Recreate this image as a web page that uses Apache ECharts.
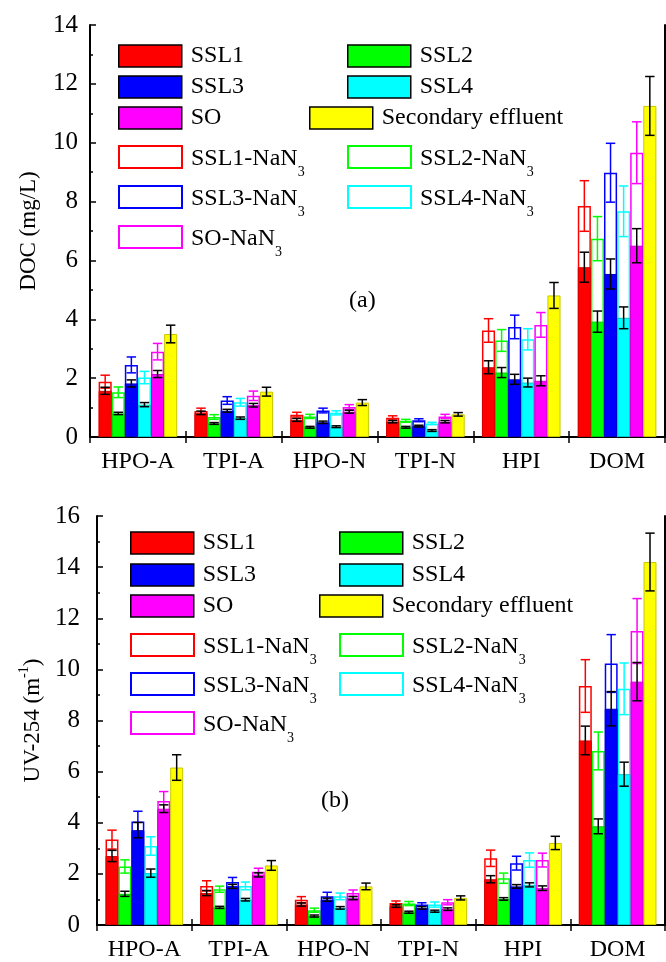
<!DOCTYPE html>
<html>
<head>
<meta charset="utf-8">
<script src="https://cdn.jsdelivr.net/npm/echarts@6/dist/echarts.min.js"></script>
<style>
  html, body { margin: 0; padding: 0; background: #fff; }
  #main { width: 666px; height: 962px; }
</style>
</head>
<body>
<div id="main"></div>
<script>
// categories and series
var categories = ['HPO-A', 'TPI-A', 'HPO-N', 'TPI-N', 'HPI', 'DOM'];
var solidNames = ['SSL1', 'SSL2', 'SSL3', 'SSL4', 'SO', 'Secondary effluent'];
var nanNames = ['SSL1-NaN3', 'SSL2-NaN3', 'SSL3-NaN3', 'SSL4-NaN3', 'SO-NaN3'];

// (a) DOC, mg/L  rows: SSL1, SSL2, SSL3, SSL4, SO, Secondary effluent
var docSolid = [
  [1.57, 0.82, 0.58, 0.52, 2.37, 5.77],
  [0.80, 0.46, 0.33, 0.33, 2.19, 3.92],
  [1.82, 0.89, 0.50, 0.37, 1.96, 5.54],
  [1.10, 0.64, 0.35, 0.22, 1.85, 4.05],
  [2.14, 1.08, 0.86, 0.52, 1.91, 6.50],
  [3.50, 1.54, 1.17, 0.77, 4.81, 11.25]
];
var docSolidErr = [
  [0.12, 0.06, 0.05, 0.04, 0.22, 0.51],
  [0.04, 0.03, 0.03, 0.03, 0.17, 0.36],
  [0.12, 0.05, 0.04, 0.03, 0.17, 0.51],
  [0.07, 0.04, 0.03, 0.03, 0.15, 0.37],
  [0.12, 0.06, 0.05, 0.04, 0.17, 0.58],
  [0.30, 0.15, 0.10, 0.06, 0.44, 1.00]
];
var docNaN = [
  [1.88, 0.88, 0.76, 0.65, 3.62, 7.85],
  [1.52, 0.68, 0.70, 0.55, 3.28, 6.74],
  [2.45, 1.24, 0.90, 0.57, 3.74, 8.98],
  [2.02, 1.18, 0.82, 0.46, 3.32, 7.67],
  [2.90, 1.40, 1.02, 0.70, 3.81, 9.66]
];
var docNaNErr = [
  [0.22, 0.10, 0.08, 0.07, 0.40, 0.86],
  [0.18, 0.08, 0.07, 0.05, 0.37, 0.75],
  [0.27, 0.13, 0.08, 0.05, 0.40, 1.00],
  [0.21, 0.13, 0.07, 0.04, 0.36, 0.86],
  [0.28, 0.16, 0.08, 0.07, 0.42, 1.05]
];

// (b) UV-254, 1/m
var uvSolid = [
  [2.70, 1.25, 0.80, 0.74, 1.79, 7.22],
  [1.22, 0.69, 0.35, 0.50, 1.02, 3.86],
  [3.71, 1.51, 0.99, 0.67, 1.51, 8.46],
  [2.03, 0.99, 0.67, 0.54, 1.57, 5.90],
  [4.55, 1.96, 1.05, 0.62, 1.44, 9.52],
  [6.16, 2.33, 1.51, 1.06, 3.21, 14.20]
];
var uvSolidErr = [
  [0.22, 0.10, 0.06, 0.05, 0.14, 0.56],
  [0.10, 0.04, 0.04, 0.04, 0.05, 0.29],
  [0.30, 0.08, 0.06, 0.05, 0.07, 0.67],
  [0.16, 0.05, 0.05, 0.04, 0.08, 0.47],
  [0.15, 0.08, 0.06, 0.05, 0.09, 0.75],
  [0.50, 0.19, 0.13, 0.08, 0.26, 1.13]
];
var uvNaN = [
  [3.34, 1.53, 0.99, 0.86, 2.61, 9.35],
  [2.29, 1.40, 0.58, 0.84, 1.83, 6.81],
  [4.05, 1.68, 1.12, 0.80, 2.42, 10.23],
  [3.09, 1.53, 1.12, 0.80, 2.54, 9.24],
  [4.85, 2.08, 1.25, 0.89, 2.54, 11.50]
];
var uvNaNErr = [
  [0.37, 0.20, 0.12, 0.08, 0.32, 1.03],
  [0.26, 0.12, 0.08, 0.08, 0.20, 0.74],
  [0.40, 0.18, 0.16, 0.07, 0.27, 1.13],
  [0.36, 0.15, 0.13, 0.10, 0.28, 1.01],
  [0.37, 0.14, 0.12, 0.10, 0.27, 1.27]
];

var colors = ['#ff0000', '#00ff00', '#0000ff', '#00ffff', '#ff00ff', '#ffff00'];
var edges = ['#d40000', '#00c800', '#0000c8', '#00c8c8', '#c800c8', '#c8c800'];
var FONT = 'Liberation Serif';
var GAP = 0.18;

var grids = [
  {left: 90, top: 25, width: 575, height: 412},
  {left: 97, top: 516, width: 568, height: 413}
];

function errRender(colorOf) {
  return function (params, api) {
    var c = api.value(0), s = api.value(1);
    var lo = api.coord([c, api.value(2)]);
    var hi = api.coord([c, api.value(3)]);
    var band = api.size([1, 0])[0];
    var total = band * (1 - GAP);
    var bw = total / 6;
    var x = lo[0] - total / 2 + (s + 0.5) * bw;
    var cap = bw * 0.36;
    var st = {stroke: colorOf(s), lineWidth: 1.5};
    return {type: 'group', children: [
      {type: 'line', shape: {x1: x, y1: hi[1], x2: x, y2: lo[1]}, style: st},
      {type: 'line', shape: {x1: x - cap, y1: hi[1], x2: x + cap, y2: hi[1]}, style: st},
      {type: 'line', shape: {x1: x - cap, y1: lo[1], x2: x + cap, y2: lo[1]}, style: st}
    ]};
  };
}

function errData(rows, errs) {
  var out = [];
  rows.forEach(function (row, s) {
    row.forEach(function (v, c) { out.push([c, s, v - errs[s][c], v + errs[s][c]]); });
  });
  return out;
}

var xAxes = [], yAxes = [], series = [];
function panel(p, solid, solidErr, nan, nanErr, max, yName) {
  var tickStyle = {show: true, inside: true, length: 6, lineStyle: {color: '#000', width: 1.5}};
  xAxes.push({
    type: 'category', gridIndex: p, data: categories, position: 'bottom',
    axisLine: {lineStyle: {color: '#000', width: 2}},
    axisTick: tickStyle,
    axisLabel: {color: '#000', fontFamily: FONT, fontSize: 24, margin: 13, interval: 0}
  });
  xAxes.push({
    type: 'category', gridIndex: p, data: categories, position: 'top',
    axisLine: {lineStyle: {color: '#000', width: 2}},
    axisTick: tickStyle, axisLabel: {show: false}
  });
  yAxes.push({
    type: 'value', gridIndex: p, min: 0, max: max, interval: 2, position: 'left',
    name: yName, nameLocation: 'middle', nameGap: 50,
    nameTextStyle: {color: '#000', fontFamily: FONT, fontSize: 23,
      rich: {
        n: {fontFamily: FONT, fontSize: 23, color: '#000', lineHeight: 24, padding: [6, 0, 0, 0], verticalAlign: 'top'},
        p: {fontFamily: FONT, fontSize: 14, color: '#000', lineHeight: 14, padding: [2, 0, 0, 0], verticalAlign: 'top'}
      }},
    axisLine: {show: true, lineStyle: {color: '#000', width: 2}},
    axisTick: tickStyle,
    minorTick: {show: true, splitNumber: 2, length: 3, lineStyle: {color: '#000', width: 1.5}},
    splitLine: {show: false},
    axisLabel: {color: '#000', fontFamily: FONT, fontSize: 25, margin: p === 0 ? 12 : 17}
  });
  yAxes.push({
    type: 'value', gridIndex: p, min: 0, max: max, interval: 2, position: 'right',
    axisLine: {show: true, lineStyle: {color: '#000', width: 2}},
    axisTick: {show: false}, axisLabel: {show: false}, splitLine: {show: false}
  });
  var xb = p * 2, xt = p * 2 + 1, yl = p * 2;
  // hollow NaN3 bars behind the solid bars
  nan.forEach(function (row, s) {
    series.push({
      name: nanNames[s], type: 'bar', xAxisIndex: xt, yAxisIndex: yl, data: row, z: 2,
      barCategoryGap: GAP * 100 + '%', barGap: '0%', silent: true,
      itemStyle: {color: '#ffffff', borderColor: colors[s], borderWidth: 1.5}
    });
  });
  series.push({
    name: '_pad' + p, type: 'bar', xAxisIndex: xt, yAxisIndex: yl, z: 2,
    data: categories.map(function () { return '-'; }),
    barCategoryGap: GAP * 100 + '%', barGap: '0%'
  });
  solid.forEach(function (row, s) {
    series.push({
      name: solidNames[s], type: 'bar', xAxisIndex: xb, yAxisIndex: yl, data: row, z: 3,
      barCategoryGap: GAP * 100 + '%', barGap: '0%', silent: true,
      itemStyle: {color: colors[s], borderColor: edges[s], borderWidth: 1}
    });
  });
  series.push({
    type: 'custom', xAxisIndex: xb, yAxisIndex: yl, z: 4, silent: true,
    data: errData(nan, nanErr), encode: {x: 0, y: [2, 3]},
    renderItem: errRender(function (s) { return colors[s]; })
  });
  series.push({
    type: 'custom', xAxisIndex: xb, yAxisIndex: yl, z: 5, silent: true,
    data: errData(solid, solidErr), encode: {x: 0, y: [2, 3]},
    renderItem: errRender(function () { return '#000'; })
  });
}

panel(0, docSolid, docSolidErr, docNaN, docNaNErr, 14, 'DOC (mg/L)');
panel(1, uvSolid, uvSolidErr, uvNaN, uvNaNErr, 16, '{n|UV-254 (m}{p|-1}{n|)}');

// legend layout: [name, iconLeft, iconCenterY]
var legendPos = [
  ['SSL1', 118, 56], ['SSL2', 347, 56],
  ['SSL3', 118, 87], ['SSL4', 347, 87],
  ['SO', 118, 118], ['Secondary effluent', 309, 118],
  ['SSL1-NaN3', 118, 156], ['SSL2-NaN3', 347, 156],
  ['SSL3-NaN3', 118, 196], ['SSL4-NaN3', 347, 196],
  ['SO-NaN3', 118, 236],
  ['SSL1', 130, 543], ['SSL2', 339, 543],
  ['SSL3', 130, 575], ['SSL4', 339, 575],
  ['SO', 130, 606], ['Secondary effluent', 319, 606],
  ['SSL1-NaN3', 130, 644], ['SSL2-NaN3', 339, 644],
  ['SSL3-NaN3', 130, 683], ['SSL4-NaN3', 339, 683],
  ['SO-NaN3', 130, 722]
];
var legends = legendPos.map(function (it) {
  var isNaN3 = it[0].indexOf('NaN3') > 0;
  var item = {name: it[0], icon: 'rect'};
  if (!isNaN3) item.itemStyle = {borderColor: '#000', borderWidth: 1.5};
  return {
    data: [item], left: it[1], top: it[2] - 11 - (isNaN3 ? 0 : 1),
    padding: 0, itemWidth: 63, itemHeight: 22, selectedMode: false, icon: 'rect',
    formatter: function (n) {
      return n.indexOf('NaN3') > 0 ? '{n|' + n.replace('NaN3', 'NaN') + '}{s|3}' : n;
    },
    textStyle: {
      color: '#000', fontFamily: FONT, fontSize: 24, padding: [0, 0, 0, 4],
      rich: {
        n: {color: '#000', fontFamily: FONT, fontSize: 24, lineHeight: 24, padding: [2, 0, 0, 0], verticalAlign: 'top'},
        s: {color: '#000', fontFamily: FONT, fontSize: 14, lineHeight: 14, padding: [20, 0, 5, 0], verticalAlign: 'top'}
      }
    }
  };
});

var chart = echarts.init(document.getElementById('main'), null, {renderer: 'canvas'});
chart.setOption({
  animation: false,
  backgroundColor: '#fff',
  grid: grids,
  xAxis: xAxes,
  yAxis: yAxes,
  legend: legends,
  graphic: [
    {type: 'text', left: 349, top: 289, style: {text: '(a)', font: '24px "Liberation Serif"', fill: '#000'}},
    {type: 'text', left: 321, top: 789, style: {text: '(b)', font: '24px "Liberation Serif"', fill: '#000'}}
  ],
  series: series
});
</script>
</body>
</html>
